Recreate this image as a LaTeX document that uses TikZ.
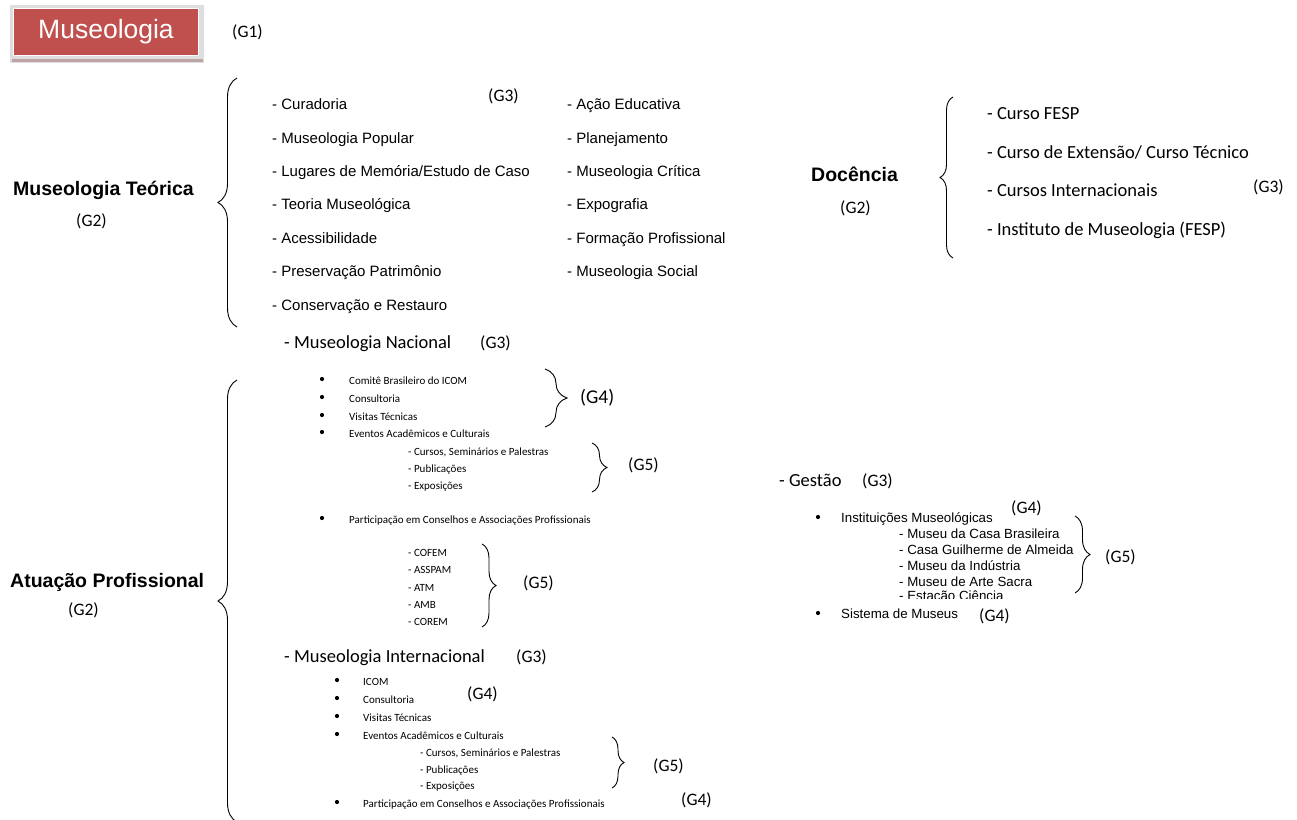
\documentclass[tikz,border=0pt]{standalone}
\usepackage{fontspec}
\setmainfont{Liberation Sans}
\newfontfamily\calf{Carlito}
\usetikzlibrary{decorations.pathreplacing}
\definecolor{titlered}{HTML}{C0504D}
\definecolor{shadowgray}{RGB}{222,222,222}
\definecolor{shadowdark}{RGB}{190,165,165}
\tikzset{
  base/.style={anchor=west, inner sep=0pt, text height=1.05em, text depth=0pt},
  ari/.style={base, font=\fontsize{15}{17}\selectfont},
  head/.style={base, font=\bfseries\fontsize{19.5}{22}\selectfont},
  glab/.style={base, font=\calf\fontsize{17.5}{20}\selectfont},
  calb/.style={base, font=\calf\fontsize{18.5}{21}\selectfont},
  sml/.style={base, font=\calf\fontsize{11}{13}\selectfont},
  ges/.style={base, font=\fontsize{13.3}{15}\selectfont},
  bul/.style={circle, fill=black, inner sep=0pt, minimum size=4.2pt},
  brc/.style={decorate, decoration={brace, amplitude=#1}, line width=0.9pt}
}
\begin{document}
\begin{tikzpicture}[x=1pt, y=-1pt]
\useasboundingbox (0,0) rectangle (1297,819);
% title
\fill[shadowgray] (10,5) rectangle (204,63);
\fill[shadowdark] (12,59) rectangle (203,62);
\node[fill=titlered, draw=white, line width=1.8pt, minimum width=185pt, minimum height=47pt, inner sep=0pt, text=white, font=\fontsize{26.5}{28}\selectfont] (title) at (106,32) {Museologia\hspace{4pt}};
\node[glab] (g1) at (232,32) {(G1)};
% Museologia Teorica
\node[head] (mt) at (13,190) {Museologia Teórica};
\node[glab] (mtg) at (76,221) {(G2)};
\coordinate (b1t) at (237,78);
\coordinate (b1b) at (237,327);
\draw[brc=19pt] (b1b) -- (b1t);
\node[glab] (mtg3) at (488,96) {(G3)};
\node[ari] (t1) at (272,104) {- Curadoria};
\node[ari] (t2) at (272,138) {- Museologia Popular};
\node[ari] (t3) at (272,171) {- Lugares de Memória/Estudo de Caso};
\node[ari] (t4) at (272,204) {- Teoria Museológica};
\node[ari] (t5) at (272,238) {- Acessibilidade};
\node[ari] (t6) at (272,271) {- Preservação Patrimônio};
\node[ari] (t7) at (272,305) {- Conservação e Restauro};
\node[ari] (r1) at (567,104) {- Ação Educativa};
\node[ari] (r2) at (567,138) {- Planejamento};
\node[ari] (r3) at (567,171) {- Museologia Crítica};
\node[ari] (r4) at (567,204) {- Expografia};
\node[ari] (r5) at (567,238) {- Formação Profissional};
\node[ari] (r6) at (567,271) {- Museologia Social};
% Docencia
\node[head] (doc) at (811,176) {Docência};
\node[glab] (docg) at (840,208) {(G2)};
\coordinate (b2t) at (953,97);
\coordinate (b2b) at (953,258);
\draw[brc=13pt] (b2b) -- (b2t);
\node[calb] (d1) at (987,114) {- Curso FESP};
\node[calb] (d2) at (987,153) {- Curso de Extensão/ Curso Técnico};
\node[calb] (d3) at (987,191) {- Cursos Internacionais};
\node[calb] (d4) at (987,230) {- Instituto de Museologia (FESP)};
\node[glab] (dg3) at (1253,187) {(G3)};
% Atuacao Profissional
\node[head] (ap) at (10,582) {Atuação Profissional};
\node[glab] (apg) at (68,610) {(G2)};
\coordinate (b3t) at (237,380);
\coordinate (b3b) at (237,822);
\draw[brc=19pt] (b3b) -- (b3t);
% Nacional
\node[calb] (nac) at (284,343) {- Museologia Nacional};
\node[glab] (nacg) at (480,343) {(G3)};
\node[bul] (nb1) at (322,379) {};
\node[bul] (nb2) at (322,397) {};
\node[bul] (nb3) at (322,415) {};
\node[bul] (nb4) at (322,432) {};
\node[sml] (n1) at (349,379) {Comitê Brasileiro do ICOM};
\node[sml] (n2) at (349,397) {Consultoria};
\node[sml] (n3) at (349,415) {Visitas Técnicas};
\node[sml] (n4) at (349,432) {Eventos Acadêmicos e Culturais};
\coordinate (b4t) at (545,369);
\coordinate (b4b) at (545,427);
\draw[brc=22pt] (b4t) -- (b4b);
\node[base, font=\calf\fontsize{19.5}{22}\selectfont] (ng4) at (580,398) {(G4)};
\node[sml] (ns1) at (408,450) {- Cursos, Seminários e Palestras};
\node[sml] (ns2) at (408,467) {- Publicações};
\node[sml] (ns3) at (408,484) {- Exposições};
\coordinate (b5t) at (592,443);
\coordinate (b5b) at (592,492);
\draw[brc=15pt] (b5t) -- (b5b);
\node[glab] (ng5) at (628,465) {(G5)};
\node[bul] (nb5) at (322,518) {};
\node[sml] (n5) at (349,518) {Participação em Conselhos e Associações Profissionais};
\node[sml] (c1) at (408,551) {- COFEM};
\node[sml] (c2) at (408,568) {- ASSPAM};
\node[sml] (c3) at (408,586) {- ATM};
\node[sml] (c4) at (408,603) {- AMB};
\node[sml] (c5) at (408,620) {- COREM};
\coordinate (b6t) at (482,544);
\coordinate (b6b) at (482,627);
\draw[brc=14pt] (b6t) -- (b6b);
\node[glab] (cg5) at (523,583) {(G5)};
% Internacional
\node[calb] (int) at (284,657) {- Museologia Internacional};
\node[glab] (intg) at (516,657) {(G3)};
\node[bul] (ib1) at (337,680) {};
\node[bul] (ib2) at (337,698) {};
\node[bul] (ib3) at (337,716) {};
\node[bul] (ib4) at (337,734) {};
\node[sml] (i1) at (363,680) {ICOM};
\node[sml] (i2) at (363,698) {Consultoria};
\node[sml] (i3) at (363,716) {Visitas Técnicas};
\node[sml] (i4) at (363,734) {Eventos Acadêmicos e Culturais};
\node[glab] (ig4) at (467,694) {(G4)};
\node[sml] (is1) at (420,751) {- Cursos, Seminários e Palestras};
\node[sml] (is2) at (420,768) {- Publicações};
\node[sml] (is3) at (420,784) {- Exposições};
\coordinate (b7t) at (612,737);
\coordinate (b7b) at (612,788);
\draw[brc=12pt] (b7t) -- (b7b);
\node[glab] (ig5) at (653,766) {(G5)};
\node[bul] (ib5) at (337,802) {};
\node[sml] (i5) at (363,802) {Participação em Conselhos e Associações Profissionais};
\node[glab] (ig4b) at (681,800) {(G4)};
% Gestao
\node[calb] (gst) at (779,481) {- Gestão};
\node[glab] (gstg) at (862,481) {(G3)};
\node[bul] (gb1) at (818,517) {};
\node[ges] (g1t) at (841,517) {Instituições Museológicas};
\node[glab] (gg4) at (1011,508) {(G4)};
\node[ges] (gs1) at (899,533) {- Museu da Casa Brasileira};
\node[ges] (gs2) at (899,549) {- Casa Guilherme de Almeida};
\node[ges] (gs3) at (899,565) {- Museu da Indústria};
\node[ges] (gs4) at (899,581) {- Museu de Arte Sacra};
\begin{scope}
\clip (890,587) rectangle (1070,598.5);
\node[ges] (gs5) at (899,595) {- Estação Ciência};
\end{scope}
\coordinate (b8t) at (1075,516);
\coordinate (b8b) at (1075,593);
\draw[brc=15pt] (b8t) -- (b8b);
\node[glab] (gg5) at (1105,557) {(G5)};
\node[bul] (gb2) at (818,613) {};
\node[ges] (g2t) at (841,613) {Sistema de Museus};
\node[glab] (gg4b) at (979,616) {(G4)};
\end{tikzpicture}
\end{document}
